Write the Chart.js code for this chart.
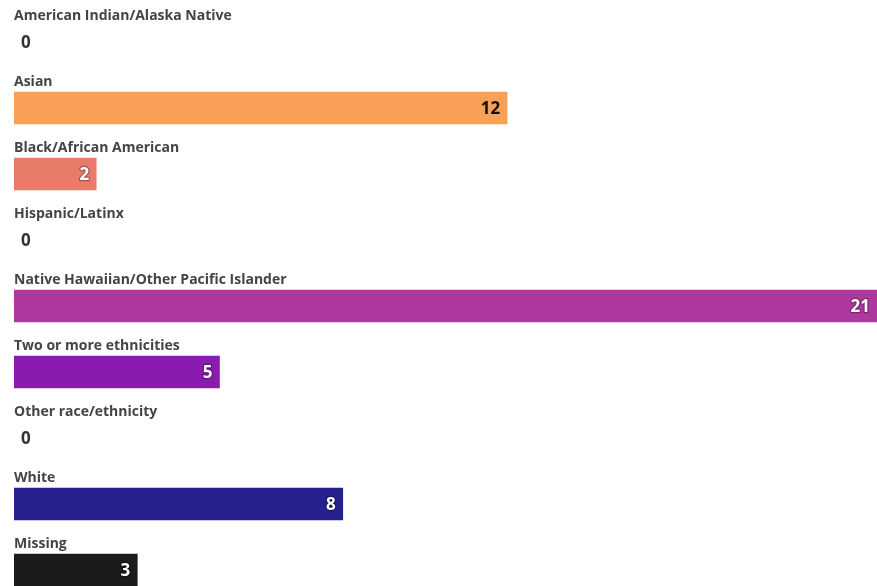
<!DOCTYPE html>
<html>
<head>
<meta charset="utf-8">
<script src="https://cdn.jsdelivr.net/npm/chart.js@4"></script>
<style>
  html, body { margin: 0; padding: 0; background: #fff; overflow: hidden; }
  #wrap { width: 877px; height: 610px; position: relative; }
</style>
</head>
<body>
<div id="wrap"><canvas id="chart"></canvas></div>
<script>
// race/ethnicity counts
const categories = [
  'American Indian/Alaska Native',
  'Asian',
  'Black/African American',
  'Hispanic/Latinx',
  'Native Hawaiian/Other Pacific Islander',
  'Two or more ethnicities',
  'Other race/ethnicity',
  'White',
  'Missing',
];
const counts = [0, 12, 2, 0, 21, 5, 0, 8, 3];
const barColors = [
  '#fcc17a', '#f8a055', '#e97b6b', '#cf5a84', '#af389e',
  '#8a1bb0', '#5a1aa6', '#26208f', '#1b1b1b',
];
const valueTextColors = ['#333', '#111', '#fff', '#333', '#fff', '#fff', '#333', '#fff', '#fff'];

const FONT = "'Open Sans', 'Noto Sans', sans-serif";

// draws the category name above each bar and the count at the bar's end
const barLabels = {
  id: 'barLabels',
  afterDatasetsDraw(chart) {
    const { ctx, chartArea } = chart;
    const meta = chart.getDatasetMeta(0);
    ctx.save();
    meta.data.forEach((bar, i) => {
      const top = bar.y - bar.height / 2;
      ctx.font = `bold 14px ${FONT}`;
      ctx.fillStyle = '#444';
      ctx.textAlign = 'left';
      ctx.textBaseline = 'alphabetic';
      ctx.fillText(categories[i], chartArea.left, top - 6);

      ctx.font = `bold 17px ${FONT}`;
      ctx.textBaseline = 'middle';
      const v = counts[i];
      if (v === 0) {
        ctx.fillStyle = '#333';
        ctx.textAlign = 'left';
        ctx.fillText(String(v), chartArea.left + 7, bar.y + 1);
      } else {
        ctx.textAlign = 'right';
        ctx.lineJoin = 'round';
        ctx.lineWidth = 2.5;
        ctx.strokeStyle = valueTextColors[i] === '#fff' ? 'rgba(0,0,0,0.3)' : 'rgba(249,160,84,0.8)';
        ctx.strokeText(String(v), bar.x - 7, bar.y + 1);
        ctx.fillStyle = valueTextColors[i];
        ctx.fillText(String(v), bar.x - 7, bar.y + 1);
      }
    });
    ctx.restore();
  },
};

new Chart(document.getElementById('chart'), {
  type: 'bar',
  data: {
    labels: categories,
    datasets: [{
      data: counts,
      backgroundColor: (c) => (counts[c.dataIndex] === 0 ? 'rgba(0,0,0,0)' : barColors[c.dataIndex]),
      borderWidth: 0,
      barThickness: 32,
    }],
  },
  options: {
    indexAxis: 'y',
    responsive: true,
    maintainAspectRatio: false,
    animation: false,
    layout: { padding: { left: 14, right: 0, top: 9, bottom: 7 } },
    plugins: {
      legend: { display: false },
      tooltip: { enabled: false },
    },
    scales: {
      x: { display: false, min: 0, max: 21 },
      y: { display: false },
    },
  },
  plugins: [barLabels],
});
</script>
</body>
</html>
